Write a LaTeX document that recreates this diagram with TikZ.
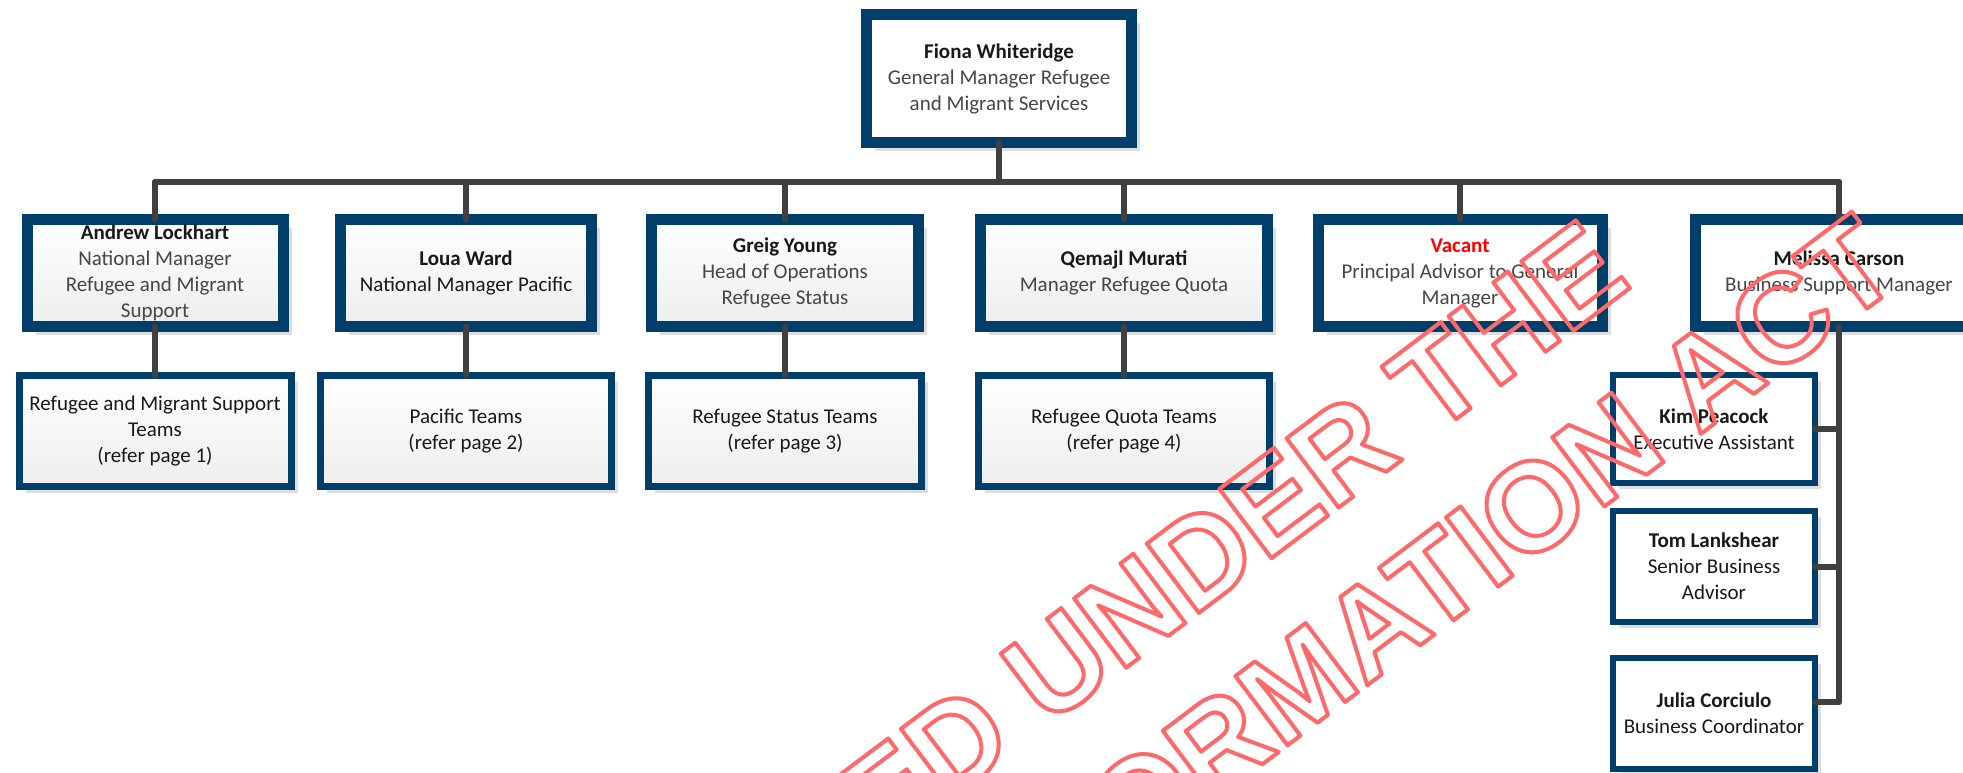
\documentclass[tikz,border=0pt]{standalone}
\usepackage{fontspec}
\setmainfont{Carlito}
\newfontfamily\wmfont{Liberation Sans}
\usetikzlibrary{shadows}
\definecolor{navy}{RGB}{0,63,107}
\definecolor{connc}{RGB}{64,64,64}
\definecolor{ttlc}{RGB}{70,70,70}
\definecolor{txtc}{RGB}{25,25,25}
\definecolor{wmred}{RGB}{255,105,105}
\newcommand{\nm}[1]{\textbf{#1}}
\newcommand{\ttl}[1]{{\color{ttlc}#1}}
\tikzset{
  box/.style={draw=navy, rectangle, outer sep=0pt, inner sep=0pt, align=center,
    font=\fontsize{21}{26}\selectfont, text=txtc},
  bigbox/.style={box, line width=11pt, fill=white,
    drop shadow={shadow xshift=8.5pt, shadow yshift=-8.5pt, fill=black!13, opacity=1}},
  gradbox/.style={bigbox, top color=white, bottom color=black!7},
  teambox/.style={box, line width=7pt, top color=white, bottom color=black!7,
    drop shadow={shadow xshift=6.5pt, shadow yshift=-6.5pt, fill=black!13, opacity=1}},
  staffbox/.style={box, line width=6pt, fill=white,
    drop shadow={shadow xshift=6pt, shadow yshift=-6pt, fill=black!13, opacity=1}},
  link/.style={draw=connc, line width=6pt, line cap=round, line join=round},
  wm/.style={inner sep=0pt, outer sep=0pt, text=wmred,
    font=\wmfont\bfseries\fontsize{126}{126}\selectfont},
}
\newcommand{\outl}[1]{\special{pdf:literal direct 1 Tr 4 w 1 j 1 J}#1\special{pdf:literal direct 0 Tr}}
\begin{document}
\begin{tikzpicture}[x=1pt,y=-1pt]
\useasboundingbox (0,0) rectangle (1963,772);
\clip (0,0) rectangle (1963,772);
\fill[white] (0,0) rectangle (1963,772);

% top
\node[bigbox, minimum width=265pt, minimum height=128pt] (top) at (999,78.5)
  {\nm{Fiona Whiteridge}\\ \ttl{General Manager Refugee}\\ \ttl{and Migrant Services}};

% row 1
\node[gradbox, minimum width=256pt, minimum height=107pt] (andrew) at (155,273)
  {\nm{Andrew Lockhart}\\ \ttl{National Manager}\\ \ttl{Refugee and Migrant}\\ \ttl{Support}};
\node[gradbox, minimum width=251pt, minimum height=107pt] (loua) at (466,273)
  {\nm{Loua Ward}\\ National Manager Pacific};
\node[gradbox, minimum width=267pt, minimum height=107pt] (greig) at (785,273)
  {\nm{Greig Young}\\ \ttl{Head of Operations}\\ \ttl{Refugee Status}};
\node[gradbox, minimum width=287pt, minimum height=107pt] (qemajl) at (1124,273)
  {\nm{Qemajl Murati}\\ \ttl{Manager Refugee Quota}};
\node[bigbox, minimum width=284pt, minimum height=107pt] (vacant) at (1460,273)
  {{\color{red}\bfseries Vacant}\\ \ttl{Principal Advisor to General}\\ \ttl{Manager}};
\node[bigbox, minimum width=287pt, minimum height=107pt] (melissa) at (1839,273)
  {\nm{Melissa Carson}\\ \ttl{Business Support Manager}};

% row 2
\node[teambox, minimum width=272pt, minimum height=111pt] (t1) at (155,431)
  {Refugee and Migrant Support\\ Teams\\ (refer page 1)};
\node[teambox, minimum width=291pt, minimum height=111pt] (t2) at (466,431)
  {Pacific Teams\\ (refer page 2)};
\node[teambox, minimum width=273pt, minimum height=111pt] (t3) at (785,431)
  {Refugee Status Teams\\ (refer page 3)};
\node[teambox, minimum width=291pt, minimum height=111pt] (t4) at (1124,431)
  {Refugee Quota Teams\\ (refer page 4)};

% staff column
\node[staffbox, minimum width=202pt, minimum height=108pt] (kim) at (1714,429)
  {\nm{Kim Peacock}\\ Executive Assistant};
\node[staffbox, minimum width=202pt, minimum height=111pt] (tom) at (1714,566.5)
  {\nm{Tom Lankshear}\\ Senior Business\\ Advisor};
\node[staffbox, minimum width=202pt, minimum height=111pt] (julia) at (1714,713)
  {\nm{Julia Corciulo}\\ Business Coordinator};

% connectors
\coordinate (busL) at (155,182);
\coordinate (busR) at (1839,182);
\draw[link] (busL) -- (busR);
\draw[link] (top.south) -- (top.south |- busL);
\foreach \n in {andrew,loua,greig,qemajl,vacant,melissa}
  \draw[link] (\n.north) -- (\n.north |- busL);
\draw[link] (andrew.south) -- (t1.north);
\draw[link] (loua.south) -- (t2.north);
\draw[link] (greig.south) -- (t3.north);
\draw[link] (qemajl.south) -- (t4.north);
\draw[link] (melissa.south) -- (melissa.south |- julia.6) -- (julia.6);
\draw[link] (kim.east) -- (kim.east -| melissa.south);
\draw[link] (tom.east) -- (tom.east -| melissa.south);

% watermark
\node[wm, anchor=base east, rotate=37] (wm1) at (1634,285) {\outl{RELEASED UNDER THE}};
\node[wm, anchor=base east, rotate=37] (wm2) at (1905,280) {\outl{OFFICIAL INFORMATION ACT}};
\end{tikzpicture}
\end{document}
